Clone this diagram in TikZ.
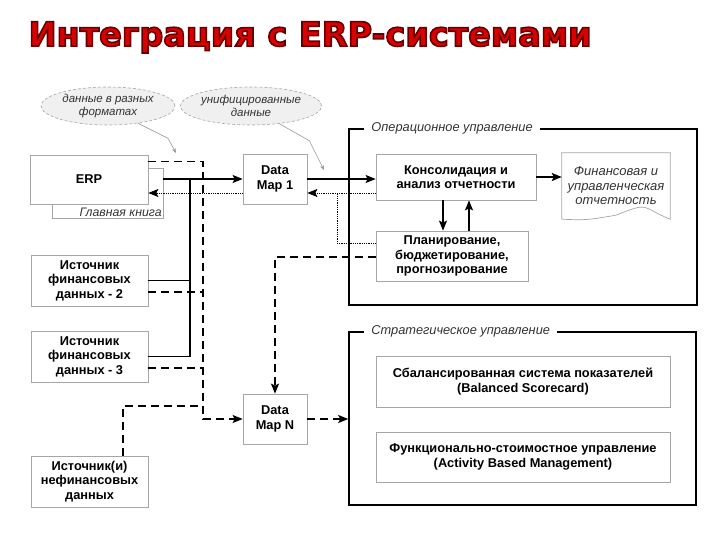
\documentclass[tikz,border=0pt]{standalone}
\usepackage{fontspec}
\setmainfont{Liberation Sans}
\newfontfamily\titlefont{DejaVu Sans}
\usetikzlibrary{shapes.geometric, arrows.meta, positioning}

% red letters with a dark red outline
\newcommand\outlined[1]{\special{pdf:literal direct 2 Tr 1.6 w 0.4 0 0 RG}#1\special{pdf:literal direct 0 Tr}}

\begin{document}
\begin{tikzpicture}[
    x=1pt, y=-1pt,
    >={Stealth[length=10pt, width=8pt, inset=2pt]},
    box/.style={rectangle, draw=gray!70, fill=white, line width=0.7pt, align=center, inner sep=2pt, font=\fontsize{12.8}{14.5}\selectfont\bfseries},
    note/.style={ellipse, draw=gray!70, densely dashed, line width=0.6pt, fill=gray!12, inner sep=0pt, align=center, font=\fontsize{11.5}{13}\selectfont\itshape, text=black!80},
    doc/.style={rectangle, inner sep=1pt, align=center, font=\fontsize{13}{14.5}\selectfont\itshape, text=black!80},
    frame/.style={rectangle, draw=black, line width=1.6pt},
    framelabel/.style={anchor=west, fill=white, inner xsep=7pt, inner ysep=2pt, font=\fontsize{12.8}{14}\selectfont\itshape, text=black!80},
    heading/.style={anchor=base west, font=\titlefont\bfseries\fontsize{33.5}{38}\selectfont},
    solidline/.style={line width=1.6pt},
    dashline/.style={line width=1.6pt, dash pattern=on 8pt off 5pt},
    dotline/.style={line width=0.8pt, densely dotted},
    callout/.style={draw=gray!80, line width=0.6pt, -{Stealth[length=5pt, width=4pt]}}
]
\useasboundingbox (0,0) rectangle (720,540);

% title
\node[heading, text=red!85!black] (title) at (25,46) {\outlined{Интеграция с ERP-системами}};

% frames
\node[frame, minimum width=348pt, minimum height=176pt] (opframe) at (523,217) {};
\node[framelabel] (oplabel) at ([xshift=16pt]opframe.north west) {Операционное управление};
\node[frame, minimum width=347pt, minimum height=173pt] (strframe) at (522.5,418.5) {};
\node[framelabel] (strlabel) at ([xshift=16pt]strframe.north west) {Стратегическое управление};

% sources
\node[box, minimum width=111pt, minimum height=50pt] (ledger) at (107.5,193) {};
\node[anchor=south east, inner sep=1.5pt, font=\fontsize{12.3}{13}\selectfont\itshape, text=black!80] (ledgertext) at (ledger.south east) {Главная книга};
\node[box, minimum width=118pt, minimum height=49pt] (erp) at (89,179.5) {ERP};
\node[box, minimum width=117pt, minimum height=51pt] (src2) at (89.5,280.5) {Источник\\финансовых\\данных - 2};
\node[box, minimum width=117pt, minimum height=51pt] (src3) at (89.5,356.5) {Источник\\финансовых\\данных - 3};
\node[box, minimum width=117pt, minimum height=51pt] (nfin) at (89.5,481.5) {Источник(и)\\нефинансовых\\данных};

% notes
\node[note, minimum width=134pt, minimum height=38pt] (ell1) at (108,106) {данные в разных\\форматах};
\node[note, minimum width=122pt, minimum height=38pt] (ell2) at (251,106) {унифицированные\\данные};

% data maps
\node[box, minimum width=64pt, minimum height=50pt] (dm1) at (275,179) {Data\\Map 1};
\node[box, minimum width=64pt, minimum height=50pt] (dmN) at (275,419) {Data\\Map N};

% operational
\node[box, minimum width=160pt, minimum height=46pt] (cons) at (456,177) {Консолидация и\\анализ отчетности};
\node[box, minimum width=152pt, minimum height=50pt] (plan) at (452,256) {Планирование,\\бюджетирование,\\прогнозирование};
\node[doc, minimum width=108pt, minimum height=66pt] (rep) at (616,186) {Финансовая и\\управленческая\\отчетность};
\draw[gray!70, line width=0.7pt] (rep.south west) -- (rep.north west) -- (rep.north east) -- (rep.south east)
    .. controls +(-30,-12) and +(35,-14) .. ([yshift=4pt]rep.south) .. controls +(-30,5) .. (rep.south west);

% strategic
\node[box, minimum width=294pt, minimum height=51pt] (bsc) at (523,381.5) {Сбалансированная система показателей\\(Balanced Scorecard)};
\node[box, minimum width=294pt, minimum height=50pt] (abm) at (523,457) {Функционально-стоимостное управление\\(Activity Based Management)};

% bus points
\coordinate (busS) at (190,178);
\coordinate (busD) at (203,419);
\coordinate (joinN) at (203,406);
\coordinate (dotJ) at (337,193);
\coordinate (tip1) at (176,153);
\coordinate (tip2) at (324,170);

% solid flow
\draw[solidline, ->] (dm1.west -| ledger.east) -- (dm1.west);
\draw[solidline] (src3.east) -| (busS);
\draw[solidline] (src2.east) -- (src2.east -| busS);
\draw[solidline, ->] (dm1.east) -- (dm1.east -| cons.west);
\draw[solidline, ->] (cons.east) -- (cons.east -| rep.west);
\draw[solidline, ->] ([xshift=-13pt]cons.south) -- ([xshift=-13pt]cons.south |- plan.north);
\draw[solidline, ->] ([xshift=13pt]cons.south |- plan.north) -- ([xshift=13pt]cons.south);

% dashed flow
\draw[dashline, ->] ([yshift=-7pt]erp.north east) -| (busD) -- (dmN.west);
\draw[dashline] ([yshift=-11.5pt]src2.east) -- ([yshift=-11.5pt]src2.east -| busD);
\draw[dashline] ([yshift=-11.5pt]src3.east) -- ([yshift=-11.5pt]src3.east -| busD);
\draw[dashline] ([xshift=33.5pt]nfin.north) |- (joinN);
\draw[dashline, ->] ([yshift=-1pt]plan.west) -| (dmN.north);
\draw[dashline, ->] (dmN.east) -- (dmN.east -| strframe.west);

% dotted flow
\draw[dotline, ->] ([yshift=-14pt]dm1.west) -- ([yshift=-14pt]dm1.west -| erp.east);
\draw[dotline, ->] ([yshift=-16pt]cons.west) -- ([yshift=-16pt]cons.west -| dm1.east);
\draw[dotline] ([yshift=13pt]plan.west) -| (dotJ);

% callouts
\draw[callout] (ell1.-30) -- ++(30,15) -- (tip1);
\draw[callout] (ell2.-32) -- ++(30,17) -- (tip2);
\end{tikzpicture}
\end{document}
